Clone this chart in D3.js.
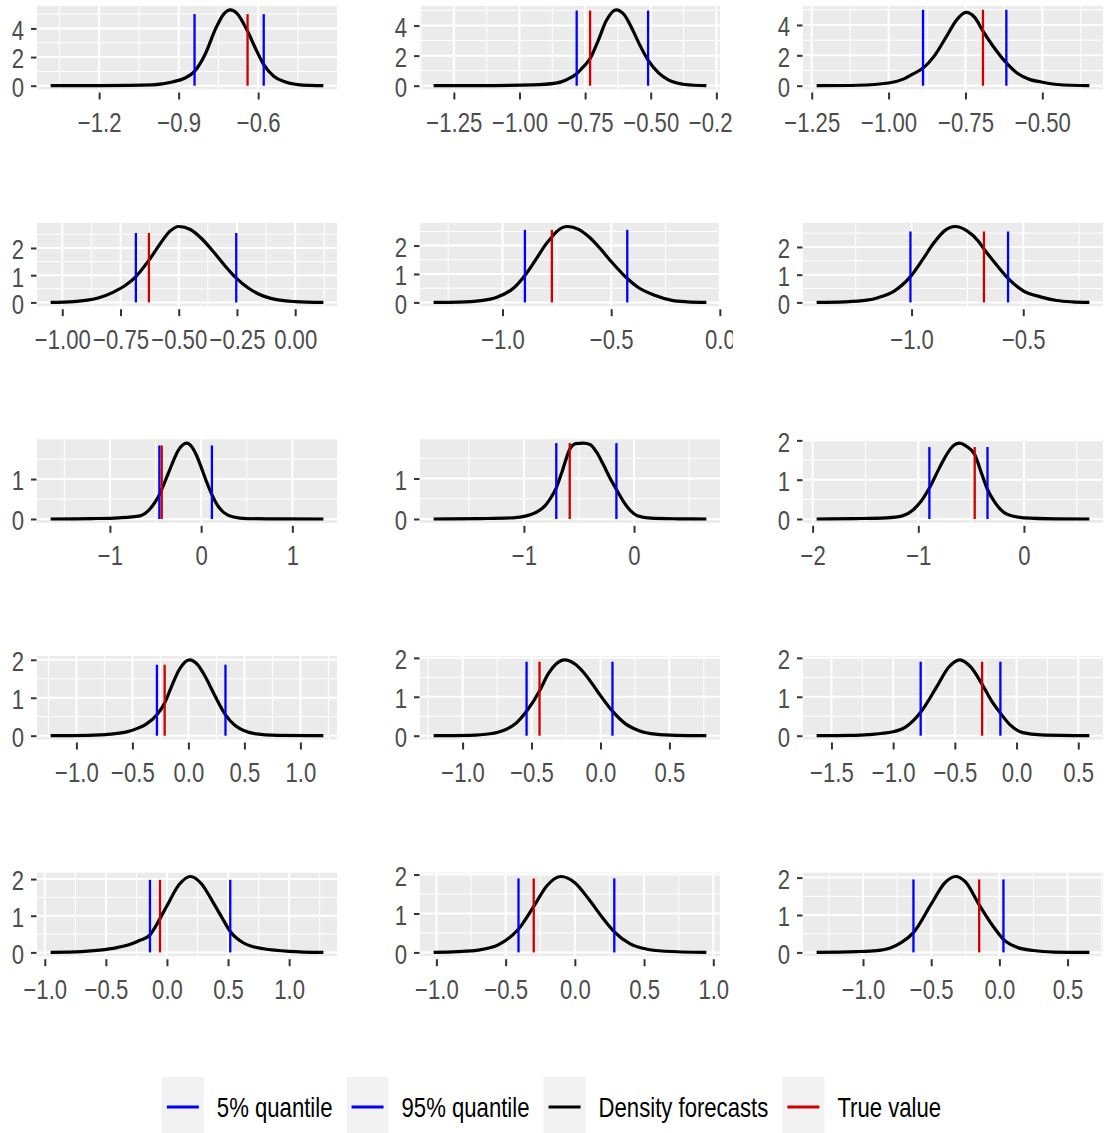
<!DOCTYPE html>
<html>
<head>
<meta charset="utf-8">
<script src="https://cdn.jsdelivr.net/npm/d3@7"></script>
<style>
	body { margin: 0; background: #fff; }
</style>
</head>
<body>
<svg id="chart" width="1107" height="1133"></svg>
<script>
// density forecast curves, one list of [x, density] per panel
const densities = [
	[[-1.383,0],[-1.2,0.01],[-1.0,0.06],[-0.92,0.28],[-0.88,0.5],[-0.84,1.0],[-0.80,2.2],[-0.76,4.0],[-0.73,5.0],[-0.705,5.3],[-0.68,5.05],[-0.64,3.8],[-0.61,2.6],[-0.579,1.47],[-0.54,0.65],[-0.50,0.28],[-0.45,0.08],[-0.40,0.02],[-0.354,0]],
	[[-1.327,0],[-1.1,0.01],[-0.95,0.05],[-0.862,0.17],[-0.82,0.4],[-0.782,0.8],[-0.76,1.2],[-0.731,1.8],[-0.70,3.0],[-0.67,4.3],[-0.632,5.05],[-0.60,4.7],[-0.57,3.75],[-0.54,2.65],[-0.51,1.7],[-0.47,0.85],[-0.433,0.39],[-0.40,0.18],[-0.369,0.08],[-0.288,0]],
	[[-1.234,0],[-1.1,0.03],[-1.0,0.18],[-0.95,0.45],[-0.92,0.78],[-0.888,1.16],[-0.85,2.0],[-0.81,3.3],[-0.78,4.3],[-0.748,4.83],[-0.72,4.5],[-0.693,3.6],[-0.66,2.6],[-0.617,1.5],[-0.58,0.8],[-0.54,0.4],[-0.505,0.25],[-0.45,0.08],[-0.347,0]],
	[[-1.05,0],[-0.95,0.03],[-0.85,0.15],[-0.78,0.38],[-0.73,0.62],[-0.684,0.95],[-0.628,1.55],[-0.58,2.15],[-0.54,2.6],[-0.50,2.79],[-0.45,2.68],[-0.40,2.33],[-0.35,1.85],[-0.30,1.33],[-0.253,0.89],[-0.20,0.52],[-0.15,0.28],[-0.08,0.1],[0.0,0.03],[0.121,0]],
	[[-1.317,0],[-1.2,0.01],[-1.1,0.06],[-1.026,0.18],[-0.95,0.5],[-0.897,0.95],[-0.85,1.47],[-0.80,2.05],[-0.773,2.3],[-0.75,2.5],[-0.70,2.67],[-0.65,2.57],[-0.60,2.29],[-0.55,1.89],[-0.50,1.44],[-0.426,0.84],[-0.38,0.55],[-0.30,0.25],[-0.22,0.07],[-0.15,0.02],[-0.062,0]],
	[[-1.425,0],[-1.3,0.02],[-1.2,0.08],[-1.147,0.18],[-1.08,0.4],[-1.005,0.93],[-0.95,1.55],[-0.90,2.15],[-0.85,2.6],[-0.805,2.74],[-0.75,2.57],[-0.70,2.2],[-0.676,1.93],[-0.62,1.36],[-0.568,0.87],[-0.50,0.42],[-0.423,0.2],[-0.35,0.07],[-0.28,0.02],[-0.204,0]],
	[[-1.65,0],[-1.2,0.01],[-0.9,0.03],[-0.67,0.08],[-0.55,0.28],[-0.50,0.44],[-0.458,0.61],[-0.40,0.92],[-0.35,1.2],[-0.30,1.48],[-0.25,1.72],[-0.20,1.86],[-0.159,1.9],[-0.10,1.8],[-0.05,1.59],[0.0,1.3],[0.05,0.99],[0.118,0.61],[0.18,0.34],[0.25,0.16],[0.355,0.05],[0.5,0.01],[0.8,0.003],[1.34,0]],
	[[-1.82,0],[-1.4,0.01],[-1.1,0.03],[-0.986,0.07],[-0.9,0.15],[-0.8,0.35],[-0.75,0.55],[-0.706,0.77],[-0.65,1.2],[-0.584,1.72],[-0.53,1.86],[-0.458,1.875],[-0.40,1.84],[-0.34,1.65],[-0.28,1.35],[-0.22,1.02],[-0.16,0.73],[-0.10,0.45],[-0.03,0.2],[0.03,0.08],[0.15,0.02],[0.4,0.005],[0.657,0]],
	[[-1.962,0],[-1.6,0.01],[-1.3,0.03],[-1.15,0.08],[-1.05,0.23],[-0.98,0.43],[-0.895,0.79],[-0.80,1.3],[-0.72,1.69],[-0.66,1.88],[-0.61,1.93],[-0.55,1.86],[-0.466,1.64],[-0.40,1.15],[-0.345,0.75],[-0.28,0.44],[-0.22,0.24],[-0.16,0.12],[0.0,0.03],[0.3,0.005],[0.619,0]],
	[[-1.23,0],[-0.9,0.01],[-0.7,0.04],[-0.551,0.1],[-0.45,0.2],[-0.38,0.3],[-0.281,0.55],[-0.212,0.86],[-0.15,1.3],[-0.08,1.75],[0.009,2.0],[0.08,1.88],[0.15,1.56],[0.23,1.09],[0.331,0.55],[0.42,0.26],[0.50,0.13],[0.581,0.06],[0.8,0.01],[1.205,0]],
	[[-1.21,0],[-0.95,0.01],[-0.80,0.05],[-0.70,0.14],[-0.62,0.3],[-0.536,0.63],[-0.442,1.15],[-0.38,1.58],[-0.32,1.85],[-0.26,1.95],[-0.18,1.83],[-0.10,1.53],[-0.02,1.13],[0.087,0.63],[0.18,0.31],[0.28,0.13],[0.4,0.04],[0.55,0.01],[0.768,0]],
	[[-1.62,0],[-1.35,0.01],[-1.2,0.03],[-1.0,0.1],[-0.9,0.22],[-0.777,0.6],[-0.65,1.24],[-0.55,1.76],[-0.46,1.95],[-0.37,1.76],[-0.279,1.32],[-0.2,0.88],[-0.131,0.58],[-0.05,0.27],[0.05,0.08],[0.2,0.02],[0.59,0]],
	[[-0.952,0],[-0.7,0.02],[-0.55,0.06],[-0.41,0.13],[-0.30,0.22],[-0.22,0.33],[-0.139,0.48],[-0.057,0.92],[0.0,1.27],[0.1,1.85],[0.192,2.07],[0.28,1.88],[0.38,1.35],[0.45,0.95],[0.518,0.57],[0.62,0.27],[0.70,0.16],[0.79,0.1],[1.0,0.03],[1.28,0]],
	[[-1.02,0],[-0.85,0.02],[-0.7,0.06],[-0.55,0.2],[-0.407,0.6],[-0.297,1.18],[-0.2,1.72],[-0.10,1.95],[0.0,1.79],[0.1,1.37],[0.2,0.89],[0.285,0.53],[0.4,0.22],[0.5,0.1],[0.65,0.03],[0.95,0]],
	[[-1.34,0],[-1.05,0.02],[-0.9,0.05],[-0.8,0.12],[-0.72,0.26],[-0.63,0.53],[-0.5,1.29],[-0.4,1.86],[-0.32,2.03],[-0.25,1.89],[-0.148,1.27],[-0.05,0.72],[0.03,0.35],[0.12,0.15],[0.25,0.05],[0.4,0.01],[0.66,0]]
];

const quantile05 = [-0.84, -0.782, -0.888, -0.684, -0.897, -1.005, -0.458, -0.706, -0.895, -0.281, -0.536, -0.777, -0.139, -0.407, -0.63];
const quantile95 = [-0.579, -0.51, -0.617, -0.253, -0.426, -0.568, 0.118, -0.16, -0.345, 0.331, 0.087, -0.131, 0.518, 0.285, 0.03];
const trueValues = [-0.64, -0.731, -0.693, -0.628, -0.773, -0.676, -0.432, -0.584, -0.466, -0.212, -0.442, -0.279, -0.057, -0.297, -0.148];
const lineTops = [5, 5, 5, 2.55, 2.55, 2.56, 1.84, 1.875, 1.83, 1.87, 1.9, 1.9, 1.98, 1.9, 1.95];

const xTicks = [
	[-1.2, -0.9, -0.6],
	[-1.25, -1.0, -0.75, -0.5, -0.25],
	[-1.25, -1.0, -0.75, -0.5],
	[-1.0, -0.75, -0.5, -0.25, 0],
	[-1.0, -0.5, 0],
	[-1.0, -0.5],
	[-1, 0, 1],
	[-1, 0],
	[-2, -1, 0],
	[-1, -0.5, 0, 0.5, 1],
	[-1, -0.5, 0, 0.5],
	[-1.5, -1, -0.5, 0, 0.5],
	[-1, -0.5, 0, 0.5, 1],
	[-1, -0.5, 0, 0.5, 1],
	[-1, -0.5, 0, 0.5]
];
const xTickDigits = [1, 2, 2, 2, 1, 1, 0, 0, 0, 1, 1, 1, 1, 1, 1];
const yTicks = [
	[0, 2, 4], [0, 2, 4], [0, 2, 4],
	[0, 1, 2], [0, 1, 2], [0, 1, 2],
	[0, 1], [0, 1], [0, 1, 2],
	[0, 1, 2], [0, 1, 2], [0, 1, 2],
	[0, 1, 2], [0, 1, 2], [0, 1, 2]
];

const legendLabels = ["5% quantile", "95% quantile", "Density forecasts", "True value"];
const legendColors = ["#0000ff", "#0000ff", "#000000", "#cd0000"];

// layout
const panelLeft = [37, 420, 803];
const panelTop = [6, 222.7, 439.3, 656, 872.7];
const panelW = 300, panelH = 83.5;
const fontSize = 27;

const svg = d3.select("#chart");

// use the narrow face if it exists, otherwise squeeze the regular one
const measure = (family) => {
	let t = svg.append("text").style("font-family", family).style("font-size", fontSize + "px").text("95% quantile -1.25");
	let w = t.node().getComputedTextLength();
	t.remove();
	return w;
};
const hasNarrow = measure("'Liberation Sans Narrow'") < measure("'Liberation Sans'") * 0.9;
const fontFamily = hasNarrow ? "'Liberation Sans Narrow'" : "'Liberation Sans', Arial, sans-serif";
const squeeze = hasNarrow ? 1 : 0.82;

const defs = svg.append("defs");
defs.append("clipPath").attr("id", "clipMid")
	.append("rect").attr("x", 369).attr("y", 0).attr("width", 364).attr("height", 1133);

const minorOf = (ticks, domain) => {
	let step = ticks.length > 1 ? ticks[1] - ticks[0] : 1;
	let out = [];
	for (let v = ticks[0] - step / 2; v <= ticks[ticks.length - 1] + step; v += step) {
		if (v >= domain[0] && v <= domain[1]) out.push(v);
	}
	return out;
};

densities.forEach((pts, i) => {
	let col = i % 3, row = Math.floor(i / 3);
	let x0 = panelLeft[col], y0 = panelTop[row];

	let xMin = d3.min(pts, d => d[0]), xMax = d3.max(pts, d => d[0]);
	let xPad = (xMax - xMin) * 0.05;
	let yMax = Math.max(d3.max(pts, d => d[1]), lineTops[i]);

	let x = d3.scaleLinear().domain([xMin - xPad, xMax + xPad]).range([x0, x0 + panelW]);
	let y = d3.scaleLinear().domain([-yMax * 0.05, yMax * 1.05]).range([y0 + panelH, y0]);

	let g = svg.append("g").attr("clip-path", col === 1 ? "url(#clipMid)" : null);

	g.append("rect")
		.attr("x", x0).attr("y", y0)
		.attr("width", panelW).attr("height", panelH)
		.style("fill", "#ebebeb");

	// grid lines
	g.selectAll("line.xminor")
		.data(minorOf(xTicks[i], x.domain()))
		.enter().append("line")
		.attr("x1", x).attr("x2", x)
		.attr("y1", y0).attr("y2", y0 + panelH)
		.style("stroke", "#fff").style("stroke-width", 1);

	g.selectAll("line.yminor")
		.data(minorOf(yTicks[i], y.domain()))
		.enter().append("line")
		.attr("x1", x0).attr("x2", x0 + panelW)
		.attr("y1", y).attr("y2", y)
		.style("stroke", "#fff").style("stroke-width", 1);

	g.selectAll("line.xmajor")
		.data(xTicks[i])
		.enter().append("line")
		.attr("x1", x).attr("x2", x)
		.attr("y1", y0).attr("y2", y0 + panelH)
		.style("stroke", "#fff").style("stroke-width", 2);

	g.selectAll("line.ymajor")
		.data(yTicks[i])
		.enter().append("line")
		.attr("x1", x0).attr("x2", x0 + panelW)
		.attr("y1", y).attr("y2", y)
		.style("stroke", "#fff").style("stroke-width", 2);

	// density curve
	let line = d3.line()
		.x(d => x(d[0]))
		.y(d => y(d[1]))
		.curve(d3.curveMonotoneX);

	g.append("path")
		.attr("d", line(pts))
		.style("fill", "none")
		.style("stroke", "#000")
		.style("stroke-width", 3.2)
		.style("stroke-linejoin", "round");

	// quantiles and true value
	let marks = [
		{v: quantile05[i], c: legendColors[0]},
		{v: quantile95[i], c: legendColors[1]},
		{v: trueValues[i], c: legendColors[3]}
	];
	g.selectAll("line.mark")
		.data(marks)
		.enter().append("line")
		.attr("x1", d => x(d.v)).attr("x2", d => x(d.v))
		.attr("y1", y(0)).attr("y2", y(lineTops[i]))
		.style("stroke", d => d.c)
		.style("stroke-width", 2.3);

	// axes
	let fmt = d3.format("." + xTickDigits[i] + "f");
	let xAxis = d3.axisBottom(x).tickValues(xTicks[i]).tickFormat(fmt).tickSize(7).tickPadding(13.5);
	let xg = g.append("g")
		.attr("transform", "translate(0," + (y0 + panelH + 3) + ")")
		.call(xAxis);

	let yAxis = d3.axisLeft(y).tickValues(yTicks[i]).tickFormat(d3.format("d")).tickSize(5.5).tickPadding(7);
	let yg = g.append("g")
		.attr("transform", "translate(" + (x0 - 0.5) + ",0)")
		.call(yAxis);

	[xg, yg].forEach(ax => {
		ax.select(".domain").remove();
		ax.selectAll(".tick line").style("stroke", "#333").style("stroke-width", 2);
		ax.selectAll(".tick text")
			.style("font-family", fontFamily)
			.style("font-size", fontSize + "px")
			.style("fill", "#4d4d4d")
			.attr("transform", "scale(" + squeeze + ",1)");
	});
	yg.selectAll(".tick text").attr("dy", "0.4em").attr("x", -12.5 / squeeze);
});

// legend
let legend = svg.append("g");
let legendY = 1107;
let items = legendLabels.map((label, i) => {
	let t = legend.append("text")
		.style("font-family", fontFamily)
		.style("font-size", fontSize + "px")
		.style("fill", "#000")
		.text(label);
	return {label: label, color: legendColors[i], node: t, w: t.node().getComputedTextLength() * squeeze};
});
let keyW = 42, gapText = 13, gapItem = 14;
let total = d3.sum(items, d => keyW + gapText + d.w) + gapItem * (items.length - 1);
let cursor = 551.5 - total / 2;
items.forEach(d => {
	legend.append("rect")
		.attr("x", cursor).attr("y", 1077)
		.attr("width", keyW).attr("height", 57)
		.style("fill", "#f2f2f2");
	legend.append("line")
		.attr("x1", cursor + 5).attr("x2", cursor + keyW - 5)
		.attr("y1", legendY).attr("y2", legendY)
		.style("stroke", d.color).style("stroke-width", 3);
	d.node
		.attr("transform", "translate(" + (cursor + keyW + gapText) + "," + legendY + ") scale(" + squeeze + ",1)")
		.attr("dy", "0.36em");
	cursor += keyW + gapText + d.w + gapItem;
});
legend.selectAll("text").raise();
</script>
</body>
</html>
